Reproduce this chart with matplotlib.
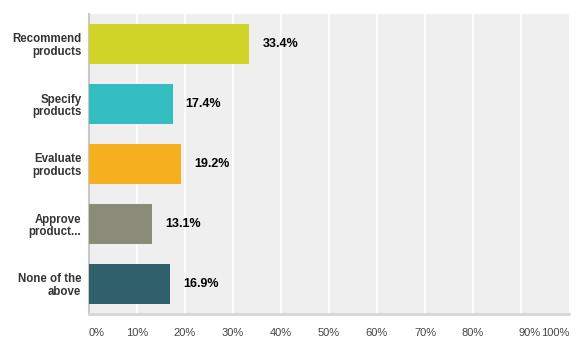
import matplotlib
matplotlib.use("Agg")
import matplotlib.pyplot as plt

categories = ["Recommend\nproducts", "Specify\nproducts", "Evaluate\nproducts", "Approve\nproduct...", "None of the\nabove"]
values = [33.4, 17.4, 19.2, 13.1, 16.9]
colors = ["#d0d428", "#33bdc0", "#f6b01f", "#8b8b79", "#2f5f6b"]
ticks = [0, 10, 20, 30, 40, 50, 60, 70, 80, 90, 100]
tick_labels = [f"{t}%" for t in ticks]

plt.rcParams['font.family'] = ['Liberation Sans', 'DejaVu Sans']

fig = plt.figure(figsize=(5.88, 3.54), dpi=100)
ax = fig.add_axes([89/588, 40/354, 480/588, 300/354])
ax.set_facecolor("#efefef")

y = list(range(len(categories)))
ax.barh(y, values, height=0.667, color=colors, zorder=3)
ax.set_xlim(0, 100)
ax.set_ylim(len(categories) - 0.5, -0.5)

for t in ticks[1:-1]:
    ax.axvline(t, color="white", lw=1.2, zorder=1)

for yi, v in zip(y, values):
    ax.annotate(f"{v}%", xy=(v, yi), xytext=(9.4, 0), textcoords="offset points",
                ha="left", va="center", fontsize=9, fontweight="bold", color="#000000")

ax.set_yticks(y)
ax.set_yticklabels(categories, fontsize=8.3, fontweight="bold", color="#333333",
                   linespacing=1.08)
ax.tick_params(axis="y", length=0, pad=5.5)

ax.set_xticks(ticks)
ax.set_xticklabels([])
ax.tick_params(axis="x", length=0)
for t, lab in zip(ticks, tick_labels):
    if t == 0:
        ha, dx = "left", 0
    elif t == 90:
        ha, dx = "left", -1.5
    elif t == 100:
        ha, dx = "right", 0
    else:
        ha, dx = "center", 0
    ax.annotate(lab, xy=(t, 0), xycoords=("data", "axes fraction"), xytext=(dx, -13.5),
                textcoords="offset points", ha=ha, va="center", fontsize=8, color="#444444")

for s in ["top", "right"]:
    ax.spines[s].set_visible(False)
ax.spines["left"].set_color("#c8c8c8")
ax.spines["left"].set_linewidth(1.5)
ax.spines["bottom"].set_color("#d6d6d6")
ax.spines["bottom"].set_linewidth(2)

fig.savefig("out.png", dpi=100, facecolor="white")
